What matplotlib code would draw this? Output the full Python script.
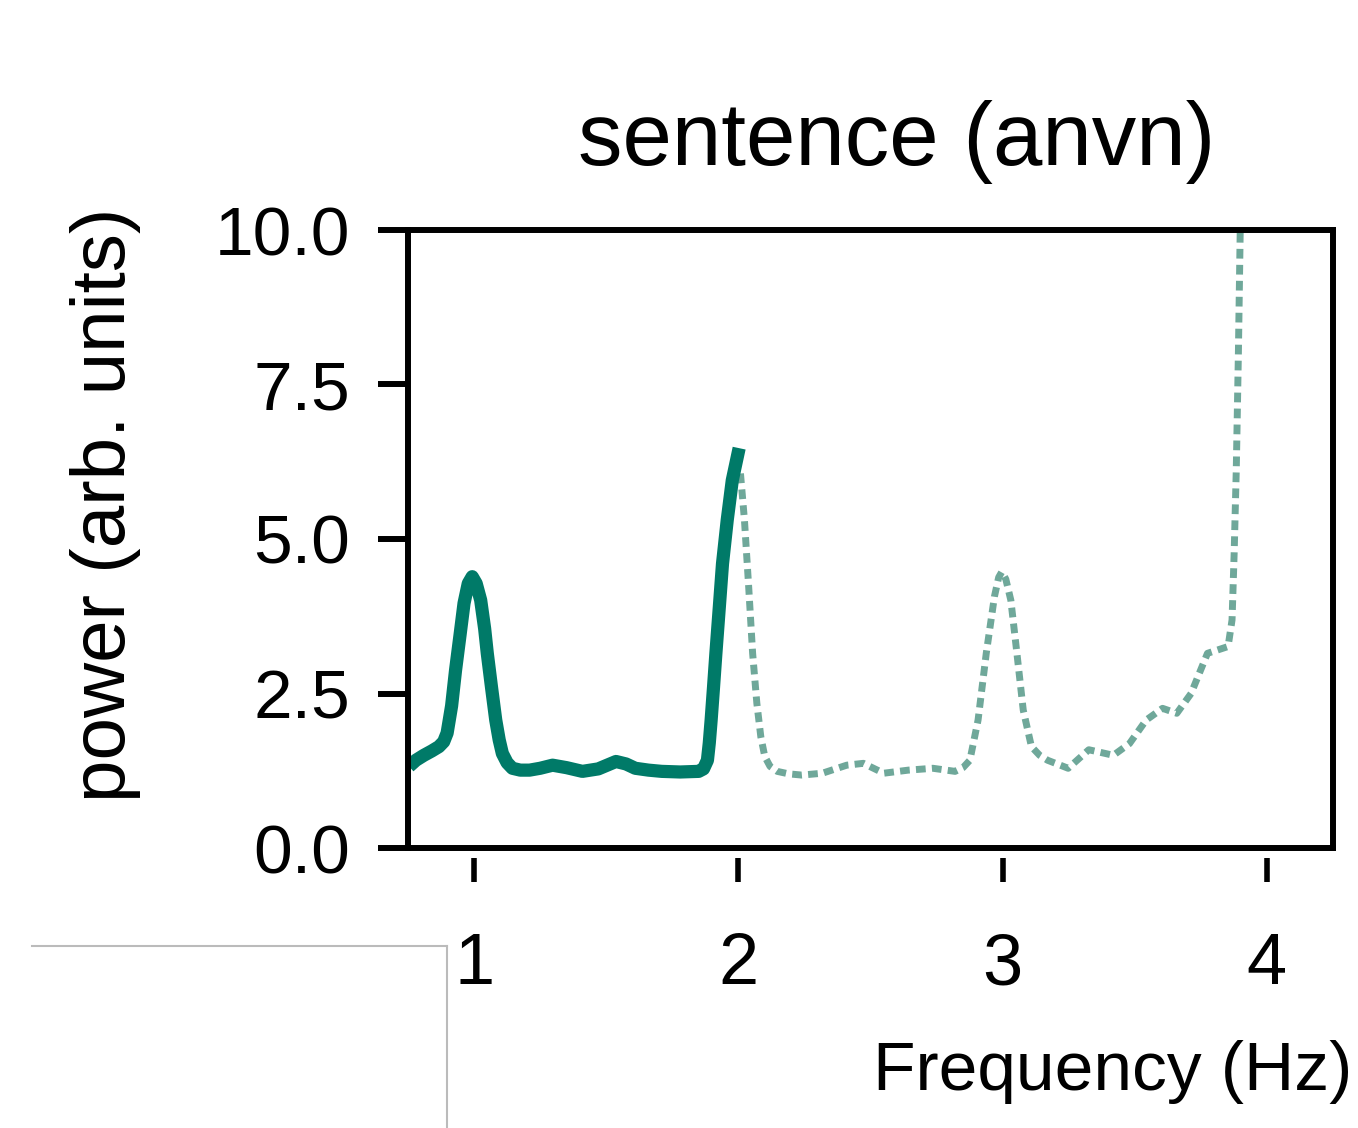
import numpy as np
import matplotlib.pyplot as plt
from matplotlib.lines import Line2D

plt.rcParams['font.family'] = ['Liberation Sans', 'DejaVu Sans']

# solid part of the spectrum (up to 2 Hz)
solid_f = [0.754, 0.78, 0.81, 0.84, 0.867, 0.885, 0.898, 0.915, 0.93, 0.947, 0.962, 0.978,
           0.993, 1.008, 1.025, 1.04, 1.05, 1.066, 1.082, 1.095, 1.107, 1.125, 1.145, 1.175,
           1.21, 1.25, 1.297, 1.35, 1.41, 1.47, 1.537, 1.575, 1.61, 1.66, 1.71, 1.78,
           1.85, 1.868, 1.883, 1.89, 1.897, 1.906, 1.915, 1.928, 1.94, 1.958, 1.977, 2.003]
solid_p = [1.32, 1.42, 1.50, 1.57, 1.64, 1.72, 1.86, 2.30, 2.88, 3.45, 3.96, 4.28,
           4.39, 4.28, 4.01, 3.55, 3.15, 2.60, 2.07, 1.75, 1.53, 1.38, 1.29, 1.26,
           1.26, 1.29, 1.34, 1.30, 1.24, 1.28, 1.40, 1.36, 1.29, 1.26, 1.24, 1.23,
           1.24, 1.28, 1.42, 1.70, 2.07, 2.60, 3.15, 3.90, 4.60, 5.31, 5.95, 6.47]

# dotted continuation (above 2 Hz)
dot_f = [2.008, 2.023, 2.039, 2.054, 2.07, 2.085, 2.10, 2.12, 2.147, 2.19, 2.24, 2.318,
         2.41, 2.473, 2.55, 2.643, 2.736, 2.82, 2.85, 2.876, 2.907, 2.938, 2.969, 2.985,
         2.997, 3.012, 3.031, 3.054, 3.078, 3.109, 3.14, 3.17, 3.248, 3.326, 3.419, 3.48,
         3.543, 3.605, 3.659, 3.713, 3.775, 3.853, 3.868, 3.876, 3.884, 3.892, 3.90]
dot_p = [6.06, 5.31, 4.23, 3.15, 2.34, 1.80, 1.48, 1.32, 1.24, 1.20, 1.18, 1.21,
         1.34, 1.37, 1.21, 1.26, 1.29, 1.24, 1.30, 1.42, 2.07, 3.15, 4.07, 4.38,
         4.47, 4.35, 4.01, 3.15, 2.23, 1.64, 1.50, 1.42, 1.29, 1.59, 1.50, 1.69,
         2.07, 2.26, 2.18, 2.50, 3.15, 3.26, 3.69, 4.77, 6.12, 8.0, 10.3]

xticks = [1, 2, 3, 4]
yticks = [0.0, 2.5, 5.0, 7.5, 10.0]
ytick_labels = ['0.0', '2.5', '5.0', '7.5', '10.0']

W, H = 1358, 1128
fig = plt.figure(figsize=(W / 100, H / 100), dpi=100)
ax = fig.add_axes([408 / W, 1 - 848 / H, (1333 - 408) / W, (848 - 230) / H])

ax.plot(dot_f, dot_p, color='#6fa89a', lw=5, dashes=(1.4, 0.9),
        dash_capstyle='butt', dash_joinstyle='round')
ax.plot(solid_f, solid_p, color='#007a68', lw=9.5, solid_joinstyle='round',
        solid_capstyle='butt')

ax.set_xlim(0.75, 4.25)
ax.set_ylim(0, 10)

for s in ['left', 'top', 'right']:
    ax.spines[s].set_linewidth(4.3)
ax.spines['bottom'].set_position(('outward', 24.5))
ax.spines['bottom'].set_visible(False)
# bottom frame line of the box
ax.plot([0, 1], [0, 0], transform=ax.transAxes, color='k', lw=4.3,
        clip_on=False, solid_capstyle='projecting')

ax.set_xticks(xticks)
ax.set_xticklabels([str(t) for t in xticks])
ax.set_yticks(yticks)
ax.set_yticklabels(ytick_labels)
ax.tick_params(axis='x', direction='in', length=17, width=4, pad=36, labelsize=52)
ax.tick_params(axis='y', direction='out', length=21.6, width=4.3, pad=20, labelsize=50)

fig.text(897 / W, 1 - 165 / H, 'sentence (anvn)', ha='center', va='baseline', fontsize=64)
fig.text(106 / W, 1 - 505 / H, 'power (arb. units)', rotation=90, ha='center',
         va='center', fontsize=55)
fig.text(1352 / W, 1 - 1090 / H, 'Frequency (Hz)', ha='right', va='baseline', fontsize=50)

# stray grey frame in the lower left corner
fig.add_artist(Line2D([32 / W, 447 / W], [1 - 946 / H, 1 - 946 / H], color='#bbbbbb', lw=1.5))
fig.add_artist(Line2D([447 / W, 447 / W], [1 - 946 / H, 0], color='#bbbbbb', lw=1.5))

fig.savefig('out.png', dpi=100)
